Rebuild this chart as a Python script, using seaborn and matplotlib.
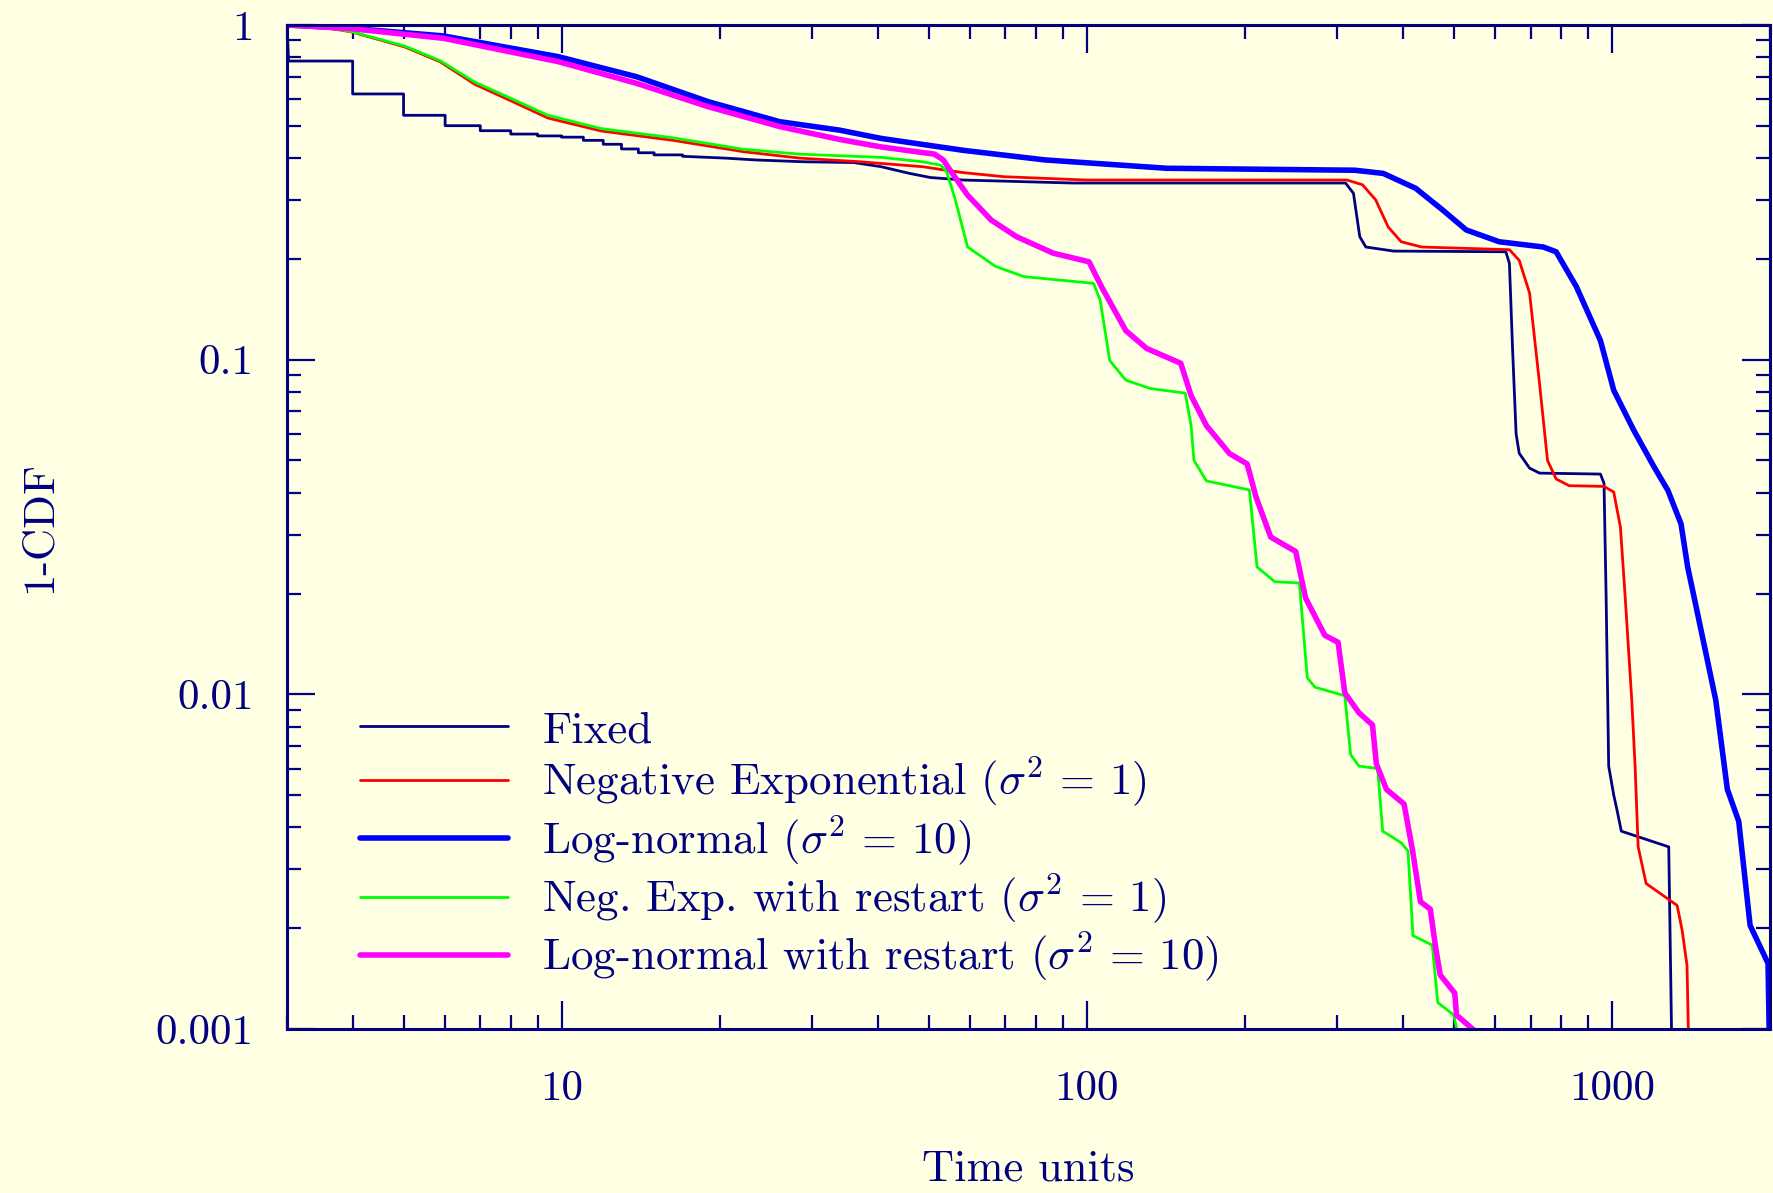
import matplotlib
matplotlib.use("Agg")
from matplotlib import pyplot as plt
from matplotlib.ticker import FixedLocator, NullFormatter, LogLocator
import seaborn as sns

# survival curves (1-CDF), time in time units
fixed_t = [3.0, 3.02, 4.0, 4.0, 5.0, 5.0, 6.0, 6.0, 7.0, 7.0, 8.0, 8.0, 9.0, 9.0, 10.0, 10.0,
           11.0, 11.0, 12.0, 12.0, 13.0, 13.0, 14.0, 14.0, 15.0, 15.0, 17.0, 17.0, 20.5, 23.4,
           29.0, 36.0, 40.6, 46.0, 50.4, 58.2, 94.0, 311, 322, 331, 340, 384, 628, 638, 647,
           657, 666, 697, 728, 951, 966, 975, 986, 1008, 1023, 1042, 1283, 1290, 1300]
fixed_s = [1.0, 0.78, 0.78, 0.622, 0.622, 0.537, 0.537, 0.50, 0.50, 0.483, 0.483, 0.472, 0.472,
           0.466, 0.466, 0.462, 0.462, 0.452, 0.452, 0.44, 0.44, 0.426, 0.426, 0.415, 0.415,
           0.409, 0.409, 0.405, 0.40, 0.395, 0.39, 0.388, 0.377, 0.36, 0.35, 0.344, 0.337, 0.337,
           0.314, 0.233, 0.217, 0.211, 0.21, 0.194, 0.107, 0.06, 0.0525, 0.0474, 0.0458, 0.0455,
           0.0427, 0.0195, 0.0061, 0.005, 0.0045, 0.0039, 0.0035, 0.002, 0.0009]

negexp_t = [3.0, 3.5, 3.97, 5.02, 5.87, 6.83, 8.03, 9.42, 11.9, 16.3, 22.2, 28.4, 37.1, 48.7,
            53.3, 58.2, 69.5, 99.7, 313, 335, 355, 375, 397, 434, 638, 666, 697, 728, 754, 783,
            829, 966, 1008, 1038, 1060, 1091, 1107, 1122, 1162, 1331, 1360, 1390, 1400]
negexp_s = [1.0, 0.985, 0.954, 0.86, 0.776, 0.665, 0.592, 0.527, 0.482, 0.452, 0.418, 0.40,
            0.39, 0.377, 0.369, 0.362, 0.352, 0.344, 0.344, 0.333, 0.30, 0.249, 0.225, 0.217,
            0.213, 0.198, 0.158, 0.085, 0.05, 0.044, 0.042, 0.0418, 0.0402, 0.0316, 0.0195,
            0.0096, 0.0061, 0.0035, 0.00272, 0.00234, 0.00198, 0.00155, 0.0009]

lognorm_t = [3.0, 3.97, 5.96, 9.85, 13.9, 19.0, 26.0, 33.8, 40.6, 58.2, 83.3, 142, 324, 367,
             423, 476, 528, 610, 740, 783, 856, 951, 1008, 1100, 1203, 1278, 1354, 1394, 1434,
             1577, 1659, 1744, 1833, 1983, 1995]
lognorm_s = [1.0, 0.977, 0.927, 0.804, 0.70, 0.59, 0.514, 0.485, 0.458, 0.422, 0.395, 0.373,
             0.368, 0.36, 0.325, 0.28, 0.244, 0.225, 0.217, 0.21, 0.165, 0.114, 0.081, 0.0616,
             0.0478, 0.0407, 0.0323, 0.024, 0.0195, 0.0096, 0.0052, 0.00417, 0.00204, 0.00157,
             0.0009]

negexp_rs_t = [3.0, 3.5, 3.97, 5.02, 5.87, 6.83, 8.03, 9.42, 11.9, 16.3, 22.2, 28.4, 40.6,
               48.7, 52.7, 54.1, 56.2, 59.3, 67.0, 75.9, 103, 106, 110.6, 118.7, 132, 154, 158,
               160, 169, 204, 211, 228, 254, 263, 272, 310, 318, 330, 358, 366, 397, 409, 418,
               455, 466, 500, 513]
negexp_rs_s = [1.0, 0.986, 0.956, 0.865, 0.782, 0.675, 0.602, 0.537, 0.49, 0.46, 0.425, 0.411,
               0.402, 0.39, 0.381, 0.364, 0.30, 0.217, 0.19, 0.177, 0.169, 0.151, 0.0994,
               0.0868, 0.082, 0.0794, 0.0635, 0.050, 0.0434, 0.0408, 0.024, 0.0217, 0.0215,
               0.0112, 0.0105, 0.0099, 0.0066, 0.0061, 0.0060, 0.0039, 0.0036, 0.0034, 0.0019,
               0.00178, 0.0012, 0.0011, 0.0009]

lognorm_rs_t = [3.0, 3.97, 5.96, 9.85, 13.9, 19.0, 26.0, 33.8, 40.6, 51.3, 53.3, 55.2, 59.3,
                65.8, 73.5, 86.3, 101, 106.7, 118.7, 130, 151, 158, 169, 187, 202, 210, 224,
                250, 261, 284, 301, 310, 330, 350, 356, 372, 402, 417, 432, 451, 461, 471, 502,
                506, 551]
lognorm_rs_s = [1.0, 0.975, 0.912, 0.777, 0.669, 0.57, 0.497, 0.455, 0.432, 0.411, 0.395,
                0.364, 0.31, 0.261, 0.233, 0.208, 0.196, 0.165, 0.122, 0.108, 0.0975, 0.0781,
                0.0635, 0.0524, 0.0488, 0.0389, 0.0295, 0.0267, 0.0194, 0.015, 0.0143, 0.0101,
                0.0088, 0.0081, 0.0062, 0.0052, 0.0047, 0.00343, 0.0024, 0.00228, 0.00178,
                0.00145, 0.00128, 0.0011, 0.00098]

labels = ['Fixed',
          r'Negative Exponential $(\sigma^2 \,=\, 1)$',
          r'Log-normal $(\sigma^2 \,=\, 10)$',
          r'Neg. Exp. with restart $(\sigma^2 \,=\, 1)$',
          r'Log-normal with restart $(\sigma^2 \,=\, 10)$']
y_ticks = [0.001, 0.01, 0.1, 1]
y_ticklabels = ['0.001', '0.01', '0.1', '1']
x_ticks = [10, 100, 1000]
x_ticklabels = ['10', '100', '1000']

NAVY = '#000080'
BG = '#ffffe4'

sns.set_style('ticks')
plt.rcParams['font.family'] = ['cmr10', 'DejaVu Serif']
plt.rcParams['mathtext.fontset'] = 'cm'
plt.rcParams['axes.unicode_minus'] = False

fig = plt.figure(figsize=(17.73, 11.93), dpi=100, facecolor=BG)
ax = fig.add_axes([0.1619, 0.1375, 0.8364, 0.8416])
ax.set_facecolor(BG)

series = [
    (fixed_t, fixed_s, NAVY, 2.0),
    (negexp_t, negexp_s, '#ff0000', 2.0),
    (lognorm_t, lognorm_s, '#0000ff', 4.0),
    (negexp_rs_t, negexp_rs_s, '#00ff00', 2.0),
    (lognorm_rs_t, lognorm_rs_s, '#ff00ff', 4.0),
]
for (t, s, col, lw), lab in zip(series, labels):
    sns.lineplot(x=t, y=s, ax=ax, color=col, linewidth=lw, label=lab,
                 sort=False, estimator=None)

ax.set_xscale('log')
ax.set_yscale('log')
ax.set_xlim(3, 2000)
ax.set_ylim(0.001, 1)

ax.xaxis.set_major_locator(FixedLocator(x_ticks))
ax.set_xticklabels(x_ticklabels)
ax.yaxis.set_major_locator(FixedLocator(y_ticks))
ax.set_yticklabels(y_ticklabels)
ax.xaxis.set_minor_locator(LogLocator(base=10, subs=range(2, 10)))
ax.yaxis.set_minor_locator(LogLocator(base=10, subs=range(2, 10)))
ax.xaxis.set_minor_formatter(NullFormatter())
ax.yaxis.set_minor_formatter(NullFormatter())

for sp in ax.spines.values():
    sp.set_visible(True)
    sp.set_color(NAVY)
    sp.set_linewidth(2.2)

ax.tick_params(which='both', direction='in', top=True, right=True,
               color=NAVY, labelcolor=NAVY, labelsize=31, width=1.6)
ax.tick_params(which='major', length=20)
ax.tick_params(which='minor', length=10)
ax.tick_params(axis='x', which='major', pad=30)
ax.tick_params(axis='y', which='major', pad=24)

ax.set_xlabel('Time units', fontsize=32, color=NAVY)
ax.set_ylabel('1-CDF', fontsize=32, color=NAVY)
ax.xaxis.set_label_coords(0.5, -0.14)
ax.yaxis.set_label_coords(-0.1666, 0.5)
ax.xaxis.label.set_va('center')
ax.yaxis.label.set_va('center')

leg = ax.legend(loc='upper left', bbox_to_anchor=(0.049, 0.317), frameon=False,
                fontsize=32.4, handlelength=3.3, handletextpad=0.76, labelspacing=0.09,
                borderpad=0, borderaxespad=0)
for txt in leg.get_texts():
    txt.set_color(NAVY)

fig.savefig('out.png', dpi=100, facecolor=BG)
